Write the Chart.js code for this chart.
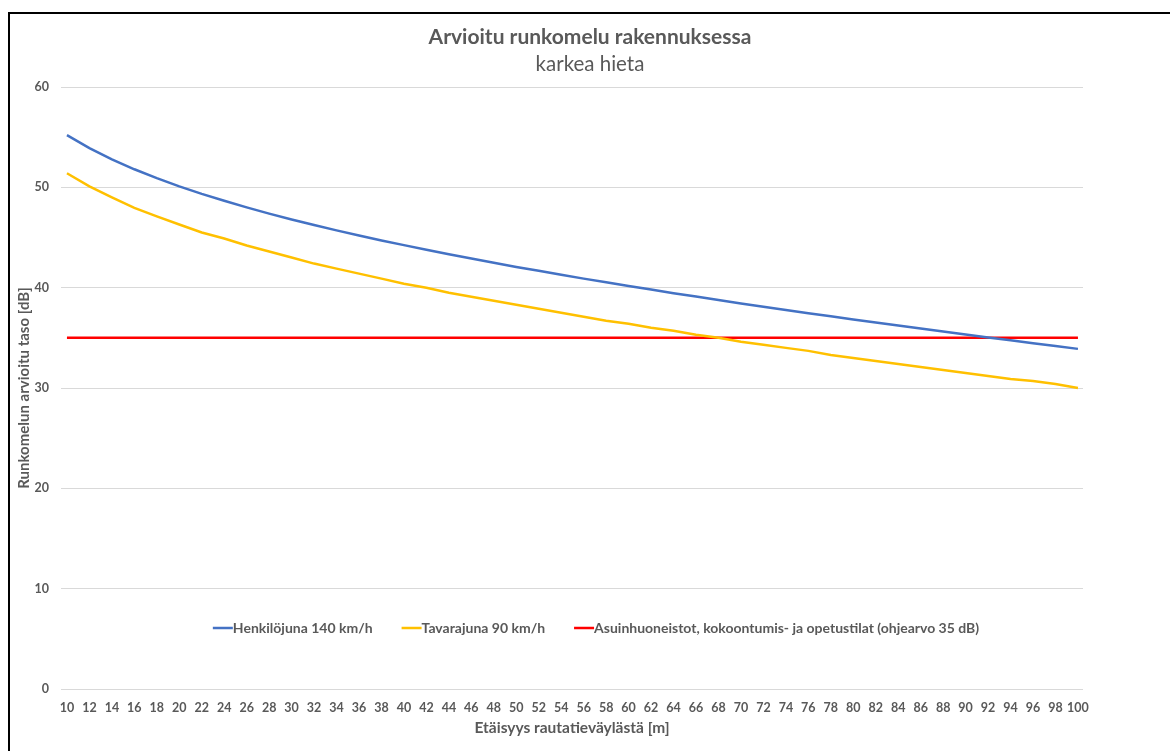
<!DOCTYPE html>
<html lang="fi">
<head>
<meta charset="utf-8">
<title>Arvioitu runkomelu rakennuksessa</title>
<script src="https://cdn.jsdelivr.net/npm/chart.js@4/dist/chart.umd.min.js"></script>
<style>
  html, body { margin: 0; padding: 0; background: #fff; overflow: hidden; }
  .chart__wrapper { position: relative; width: 1170px; height: 751px; }
  .chart__frame {
    position: absolute; left: 8px; top: 12px; width: 1300px; height: 900px;
    border-left: 2px solid #000; border-top: 2px solid #000; pointer-events: none;
  }
</style>
</head>
<body>
<div class="chart__wrapper">
  <canvas id="runkomelu-chart" width="1170" height="751"></canvas>
  <div class="chart__frame"></div>
</div>
<script>
  // etäisyys [m]
  const distances = [
    10, 12, 14, 16, 18, 20, 22, 24, 26, 28, 30, 32, 34, 36, 38, 40,
    42, 44, 46, 48, 50, 52, 54, 56, 58, 60, 62, 64, 66, 68, 70, 72,
    74, 76, 78, 80, 82, 84, 86, 88, 90, 92, 94, 96, 98, 100,
  ];

  // Henkilöjuna 140 km/h [dB]
  const henkilojuna = [
    55.2, 53.91, 52.79, 51.8, 50.92, 50.1, 49.35, 48.66, 48.0, 47.38,
    46.8, 46.24, 45.71, 45.2, 44.71, 44.24, 43.77, 43.33, 42.9, 42.48,
    42.07, 41.68, 41.28, 40.9, 40.53, 40.16, 39.81, 39.45, 39.11, 38.77,
    38.43, 38.1, 37.78, 37.45, 37.14, 36.83, 36.52, 36.22, 35.92, 35.62,
    35.33, 35.03, 34.75, 34.46, 34.18, 33.9,
  ];

  // Tavarajuna 90 km/h [dB]
  const tavarajuna = [
    51.4, 50.1, 49.0, 47.95, 47.1, 46.3, 45.5, 44.9, 44.2, 43.6,
    43.0, 42.4, 41.9, 41.4, 40.9, 40.4, 40.0, 39.5, 39.1, 38.7,
    38.3, 37.9, 37.5, 37.1, 36.7, 36.4, 36.0, 35.7, 35.3, 35.0,
    34.6, 34.3, 34.0, 33.7, 33.3, 33.0, 32.7, 32.4, 32.1, 31.8,
    31.5, 31.2, 30.9, 30.7, 30.4, 30.0,
  ];

  // ohjearvo 35 dB
  const ohjearvo = [
    35, 35, 35, 35, 35, 35, 35, 35, 35, 35, 35, 35, 35, 35, 35, 35,
    35, 35, 35, 35, 35, 35, 35, 35, 35, 35, 35, 35, 35, 35, 35, 35,
    35, 35, 35, 35, 35, 35, 35, 35, 35, 35, 35, 35, 35, 35,
  ];

  const yTicks = [0, 10, 20, 30, 40, 50, 60];

  const seriesLabels = [
    "Henkilöjuna 140 km/h",
    "Tavarajuna 90 km/h",
    "Asuinhuoneistot, kokoontumis- ja opetustilat (ohjearvo 35 dB)",
  ];

  const textColor = "#595959";
  const gridColor = "#d9d9d9";
  const fontFamily = "Lato, 'Open Sans', sans-serif";

  const toPoints = (values) => values.map((v, i) => ({ x: distances[i], y: v }));

  // legend drawn inside the plot, like the original
  const insideLegend = {
    id: "insideLegend",
    afterDatasetsDraw(chart) {
      const { ctx } = chart;
      ctx.save();
      ctx.font = `bold 14px ${fontFamily}`;
      const lineLen = 20;
      const gap = 29;
      const items = chart.data.datasets.map((ds) => ({
        label: ds.label,
        color: ds.borderColor,
        w: lineLen + ctx.measureText(ds.label).width,
      }));
      const total =
        items.reduce((s, it) => s + it.w, 0) + gap * (items.length - 1);
      let x = 596 - total / 2;
      const y = 628;
      items.forEach((it) => {
        ctx.strokeStyle = it.color;
        ctx.lineWidth = 2.5;
        ctx.beginPath();
        ctx.moveTo(x, y);
        ctx.lineTo(x + lineLen, y);
        ctx.stroke();
        ctx.fillStyle = textColor;
        ctx.textBaseline = "middle";
        ctx.textAlign = "left";
        ctx.fillText(it.label, x + lineLen, y + 0.5);
        x += it.w + gap;
      });
      ctx.restore();
    },
  };

  const ctx = document.getElementById("runkomelu-chart").getContext("2d");

  new Chart(ctx, {
    type: "line",
    data: {
      datasets: [
        {
          label: seriesLabels[0],
          data: toPoints(henkilojuna),
          borderColor: "#4472c4",
          borderWidth: 2.5,
          pointRadius: 0,
        },
        {
          label: seriesLabels[1],
          data: toPoints(tavarajuna),
          borderColor: "#ffc000",
          borderWidth: 2.5,
          pointRadius: 0,
        },
        {
          label: seriesLabels[2],
          data: toPoints(ohjearvo),
          borderColor: "#ff0000",
          borderWidth: 2.5,
          pointRadius: 0,
        },
      ],
    },
    options: {
      responsive: false,
      animation: false,
      // left padding shifts the title centre to match the original
      layout: { padding: { left: 10, right: 0, top: 0, bottom: 0 } },
      plugins: {
        legend: { display: false },
        tooltip: { enabled: false },
        title: {
          display: true,
          text: "Arvioitu runkomelu rakennuksessa",
          color: textColor,
          font: { family: fontFamily, size: 21, weight: "bold", lineHeight: 1.2 },
          padding: { top: 24.4, bottom: 0 },
        },
        subtitle: {
          display: true,
          text: "karkea hieta",
          color: textColor,
          font: { family: fontFamily, size: 20.5, weight: "normal", lineHeight: 1.2 },
          padding: { top: 2.1, bottom: 10.7 },
        },
      },
      scales: {
        x: {
          type: "linear",
          min: 9.47,
          max: 100.45,
          afterBuildTicks: (axis) => {
            axis.ticks = distances.map((v) => ({ value: v }));
          },
          afterFit: (scale) => {
            scale.height = 62;
          },
          grid: { display: false, drawTicks: false },
          border: { display: false },
          ticks: {
            autoSkip: false,
            maxRotation: 0,
            padding: 11,
            color: textColor,
            font: { family: fontFamily, size: 12.5, weight: "bold" },
          },
          title: {
            display: true,
            text: "Etäisyys rautatieväylästä [m]",
            color: textColor,
            font: { family: fontFamily, size: 15.5, weight: "bold", lineHeight: 1.2 },
            padding: { top: 0, bottom: 13.7 },
          },
        },
        y: {
          min: 0,
          max: 60,
          afterBuildTicks: (axis) => {
            axis.ticks = yTicks.map((v) => ({ value: v }));
          },
          afterFit: (scale) => {
            scale.width = 51;
          },
          grid: { color: gridColor, lineWidth: 1, drawTicks: false },
          border: { display: false },
          ticks: {
            padding: 12,
            color: textColor,
            font: { family: fontFamily, size: 12.5, weight: "bold" },
          },
          title: {
            display: true,
            text: "Runkomelun arvioitu taso [dB]",
            color: textColor,
            font: { family: fontFamily, size: 15, weight: "bold", lineHeight: 1.2 },
            padding: { top: 5, bottom: 0 },
          },
        },
        // empty right-hand space, as in the original plot area
        yRight: {
          position: "right",
          min: 0,
          max: 60,
          afterFit: (scale) => {
            scale.width = 87;
          },
          grid: { display: false, drawTicks: false },
          border: { display: false },
          ticks: { display: false },
        },
      },
    },
    plugins: [insideLegend],
  });
</script>
</body>
</html>
